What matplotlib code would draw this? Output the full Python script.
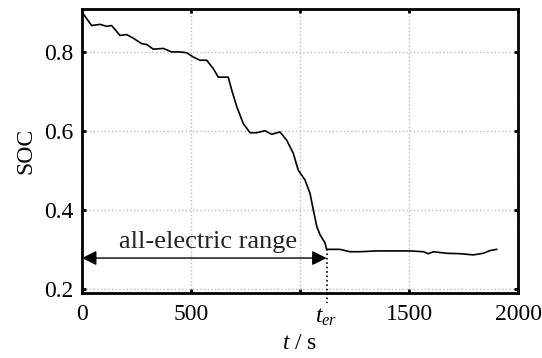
import matplotlib.pyplot as plt
import numpy as np

plt.rcParams['font.family'] = 'Liberation Serif'
plt.rcParams['mathtext.fontset'] = 'custom'
plt.rcParams['mathtext.it'] = 'Liberation Serif:italic'
plt.rcParams['mathtext.rm'] = 'Liberation Serif'

# SOC trace (time in s, SOC)
t = [0, 3, 44, 83, 113, 136, 174, 205, 235, 274, 297, 327, 373, 411, 450, 480,
     511, 541, 572, 602, 625, 671, 687, 710, 740, 771, 801, 839, 870, 908,
     939, 969, 992, 1023, 1046, 1061, 1077, 1092, 1115, 1122, 1183, 1229,
     1275, 1352, 1428, 1505, 1566, 1589, 1612, 1673, 1734, 1795, 1841, 1872, 1902]
soc = [0.905, 0.900, 0.868, 0.871, 0.866, 0.868, 0.843, 0.845, 0.836, 0.822, 0.820,
       0.808, 0.810, 0.801, 0.801, 0.799, 0.788, 0.780, 0.780, 0.759, 0.737, 0.737,
       0.704, 0.662, 0.619, 0.596, 0.596, 0.601, 0.592, 0.598, 0.577, 0.544, 0.501,
       0.476, 0.442, 0.400, 0.358, 0.337, 0.316, 0.300, 0.300, 0.294, 0.294, 0.296,
       0.296, 0.296, 0.294, 0.289, 0.294, 0.290, 0.289, 0.286, 0.290, 0.297, 0.300]

t_er = 1122
soc_er = 0.300
arrow_y = 0.278

xticks = [0, 500, 1000, 1500, 2000]
xticklabels = ['0', '500', '', '1500', '2000']
yticks = [0.2, 0.4, 0.6, 0.8]

fig = plt.figure(figsize=(5.42, 3.58), dpi=100)
ax = fig.add_axes([82 / 542, 1 - 292.7 / 358, 436 / 542, 283.7 / 358])

ax.plot(t, soc, color='black', linewidth=1.2)

ax.set_xlim(0, 2000)
ax.set_ylim(0.19, 0.91)
ax.set_xticks(xticks)
ax.set_xticklabels(xticklabels)
ax.set_yticks(yticks)
ax.set_yticklabels(['0.2', '0.4', '0.6', '0.8'])
ax.tick_params(direction='in', length=3, width=2, labelsize=17, pad=6,
               top=True, right=True)
ax.tick_params(axis='x', pad=8)
for s in ax.spines.values():
    s.set_linewidth(2)
ax.grid(True, color='#bbbbbb', linestyle=':', linewidth=1)

# arrow marking the all-electric range
ax.annotate('', xy=(0, arrow_y), xytext=(t_er, arrow_y),
            arrowprops=dict(arrowstyle='<|-|>', color='black', linewidth=1,
                            mutation_scale=22, shrinkA=0, shrinkB=0))
ax.text(t_er / 2 + 15, 0.290, 'all-electric range', fontsize=19,
        ha='center', va='bottom', color='#222222')

# dotted drop line at t_er
ax.plot([t_er, t_er], [soc_er, 0.165], color='black', linestyle=':',
        linewidth=1.2, clip_on=False)
ax.text(t_er, 0.127, r'$t_{er}$', fontsize=17, ha='center', va='center')

ax.set_xlabel(r'$t$ / s', fontsize=17, labelpad=6)
ax.set_ylabel('SOC', fontsize=17, labelpad=6)

fig.savefig('out.png', dpi=100)
